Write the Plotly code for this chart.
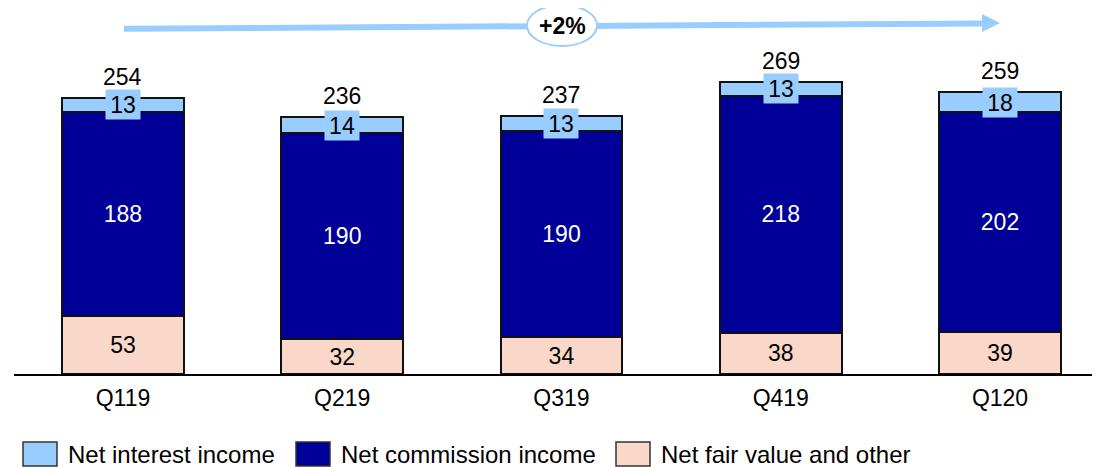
import plotly.graph_objects as go

# ---- data ----
quarters = ["Q119", "Q219", "Q319", "Q419", "Q120"]
net_fair_value = [53, 32, 34, 38, 39]
net_commission = [188, 190, 190, 218, 202]
net_interest = [13, 14, 13, 13, 18]
totals = [254, 236, 237, 269, 259]
growth_label = "+2%"
series_names = ["Net interest income", "Net commission income", "Net fair value and other"]

# ---- style ----
C_LIGHT = "#99CCFF"
C_NAVY = "#000099"
C_PEACH = "#F9D8C9"
FONT = "Liberation Sans, Arial, sans-serif"
FS = 23
FS_LEG = 24

OFF = 8  # page body margin
W, H = 1100 - OFF, 467 - OFF
L, R, T, B = 14 - OFF, 0, 0, 93
PW, PH = W - L - R, H - T - B


def px(x):
    return (x - OFF - L) / PW


def py(y):
    return 1 - (y - OFF - T) / PH


BAR_W = 0.556
line_style = dict(color="#111111", width=2)

fig = go.Figure()
fig.add_trace(go.Bar(
    x=quarters, y=net_fair_value, name=series_names[2], width=BAR_W,
    marker=dict(color=C_PEACH, line=line_style),
    text=net_fair_value, textposition="inside", insidetextanchor="middle",
    textangle=0, textfont=dict(color="black", size=FS, family=FONT),
    showlegend=False,
))
fig.add_trace(go.Bar(
    x=quarters, y=net_commission, name=series_names[1], width=BAR_W,
    marker=dict(color=C_NAVY, line=line_style),
    text=net_commission, textposition="inside", insidetextanchor="middle",
    textangle=0, textfont=dict(color="white", size=FS, family=FONT),
    showlegend=False,
))
fig.add_trace(go.Bar(
    x=quarters, y=net_interest, name=series_names[0], width=BAR_W,
    marker=dict(color=C_LIGHT, line=line_style),
    showlegend=False,
))

annotations = []
for q, a, b, c, t in zip(quarters, net_fair_value, net_commission, net_interest, totals):
    annotations.append(dict(
        x=q, y=a + b + c / 2, xref="x", yref="y", text=str(c), showarrow=False,
        font=dict(size=FS, color="black", family=FONT),
        bgcolor=C_LIGHT, width=32, height=27, borderpad=1,
        xanchor="center", yanchor="middle",
    ))
    annotations.append(dict(
        x=q, y=t, xref="x", yref="y", text=str(t), showarrow=False,
        font=dict(size=FS, color="black", family=FONT),
        xanchor="center", yanchor="bottom", yshift=6,
    ))

annotations.append(dict(
    x=px(562), y=py(26), xref="paper", yref="paper", text="<b>" + growth_label + "</b>",
    showarrow=False, font=dict(size=FS, color="black", family=FONT),
    xanchor="center", yanchor="middle",
))

shapes = []
shapes.append(dict(type="line", xref="paper", yref="paper",
                   x0=px(124), y0=py(28.7), x1=px(984), y1=py(23.5),
                   line=dict(color=C_LIGHT, width=6)))
shapes.append(dict(type="path", xref="paper", yref="paper",
                   path=f"M {px(982)} {py(14)} L {px(1000)} {py(23)} L {px(982)} {py(32)} Z",
                   fillcolor=C_LIGHT, line=dict(color=C_LIGHT, width=0)))
shapes.append(dict(type="circle", xref="paper", yref="paper",
                   x0=px(527), y0=py(46), x1=px(597), y1=py(5),
                   fillcolor="white", line=dict(color=C_LIGHT, width=2)))

legend_items = [
    (series_names[0], C_LIGHT, 23, 66),
    (series_names[1], C_NAVY, 296, 339),
    (series_names[2], C_PEACH, 616, 659),
]
for name, col, bx, tx in legend_items:
    shapes.append(dict(type="rect", xref="paper", yref="paper",
                       x0=px(bx), x1=px(bx + 34), y0=py(466), y1=py(442),
                       fillcolor=col, line=dict(color="#333333", width=1.5)))
    annotations.append(dict(
        x=px(tx), y=py(455), xref="paper", yref="paper", text=name, showarrow=False,
        font=dict(size=FS_LEG, color="black", family=FONT),
        xanchor="left", yanchor="middle",
    ))

fig.update_layout(
    barmode="stack",
    width=W, height=H,
    margin=dict(l=L, r=R, t=T, b=B, pad=0),
    plot_bgcolor="white", paper_bgcolor="white",
    font=dict(family=FONT, size=FS, color="black"),
    xaxis=dict(
        range=[-0.497, 4.456], showgrid=False, zeroline=False,
        showline=True, linecolor="black", linewidth=2,
        ticks="", ticklabelstandoff=2,
        tickfont=dict(size=FS, color="black", family=FONT),
    ),
    yaxis=dict(range=[0, PH / 1.087], visible=False, showgrid=False, zeroline=False),
    annotations=annotations,
    shapes=shapes,
)

fig.write_html("out.html")
